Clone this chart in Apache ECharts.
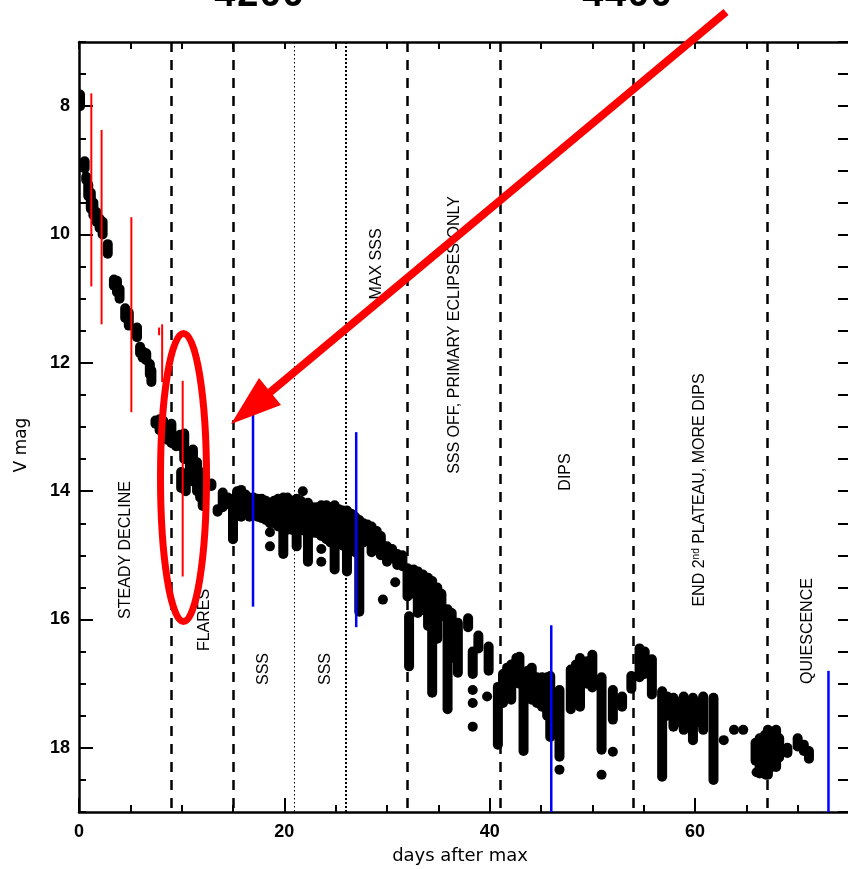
<!DOCTYPE html>
<html><head><meta charset="utf-8">
<script src="https://cdn.jsdelivr.net/npm/echarts@6/dist/echarts.min.js"></script>
<style>html,body{margin:0;padding:0;background:#fff}#c{width:848px;height:869px}</style>
</head><body><div id="c"></div>
<script>
// ---------- data ----------
const xTickLabels = [0, 20, 40, 60];
const yTickLabels = [8, 10, 12, 14, 16, 18];
const topAxisLabels = ['4200', '4400'];
const phaseDashed = [9, 15, 32, 41, 54, 67];
const phaseDottedThin = [21];
const phaseDottedThick = [26];
// light-curve runs of overlapping points: [day, brightest mag, faintest mag]
const streaks = [
  [0.1, 7.82, 8.0], [0.55, 8.86, 8.97], [0.7, 9.1, 9.15], [0.9, 9.22, 9.4], [1.15, 9.35, 9.6],
  [1.4, 9.5, 9.7], [1.7, 9.65, 9.8], [2.0, 9.75, 9.9], [2.3, 9.8, 10.0], [2.8, 10.15, 10.3],
  [3.4, 10.7, 10.8], [3.7, 10.72, 10.9], [3.95, 10.85, 11.0], [4.5, 11.15, 11.3], [4.85, 11.22, 11.42],
  [5.65, 11.45, 11.6], [5.95, 11.75, 11.85], [6.2, 11.82, 11.92], [6.55, 11.85, 11.96], [6.9, 12.02, 12.18],
  [7.05, 12.12, 12.3], [7.45, 12.9, 12.95], [7.85, 12.88, 13.05], [8.2, 12.9, 13.1], [8.6, 12.98, 13.2],
  [9.0, 12.95, 13.25], [9.45, 13.15, 13.3], [9.85, 13.12, 13.3], [10.25, 13.1, 13.5], [9.95, 13.7, 13.95],
  [10.4, 13.75, 14.0], [10.8, 13.4, 13.7], [11.1, 13.35, 13.85], [11.5, 13.55, 14.0], [11.8, 13.7, 14.1],
  [12.05, 13.75, 14.23], [12.9, 13.88, 13.92], [13.5, 14.28, 14.32], [14.0, 14.02, 14.25], [14.5, 14.1, 14.2],
  [15.0, 14.12, 14.75], [15.4, 14.0, 14.35], [15.8, 13.98, 14.4], [16.2, 14.05, 14.35], [16.6, 14.1, 14.4],
  [17.0, 14.1, 14.38], [17.4, 14.12, 14.4], [17.8, 14.12, 14.42], [18.2, 14.15, 14.45], [18.6, 14.2, 14.5],
  [19.0, 14.15, 14.5], [19.4, 14.12, 14.55], [19.9, 14.1, 14.98], [20.3, 14.1, 14.6], [20.7, 14.15, 14.6],
  [21.2, 14.12, 14.86], [21.6, 14.15, 14.6], [22.0, 14.2, 14.62], [22.3, 14.18, 15.1], [22.7, 14.25, 14.65],
  [23.1, 14.25, 14.65], [23.6, 14.22, 14.7], [24.1, 14.22, 14.75], [24.5, 14.25, 14.8], [24.9, 14.22, 15.22],
  [25.3, 14.28, 14.8], [25.7, 14.3, 14.85], [26.1, 14.3, 15.25], [26.5, 14.35, 14.9], [26.9, 14.4, 14.95],
  [27.3, 14.45, 15.88], [27.7, 14.5, 14.8], [28.1, 14.52, 14.75], [28.5, 14.55, 14.95], [29.0, 14.62, 14.9],
  [29.4, 14.7, 15.0], [30.0, 14.86, 15.1], [30.5, 14.9, 15.05], [31.0, 14.98, 15.15], [31.5, 15.0, 15.17],
  [32.0, 15.2, 15.64], [32.15, 15.95, 16.73], [32.6, 15.22, 15.6], [33.0, 15.25, 15.9], [33.5, 15.3, 15.85],
  [34.0, 15.35, 16.1], [34.4, 15.4, 17.14], [34.9, 15.5, 16.3], [35.3, 15.6, 15.95], [35.9, 15.84, 17.4],
  [36.3, 15.9, 16.6], [36.9, 16.05, 16.83], [37.9, 15.98, 16.12], [38.35, 16.5, 16.85], [38.9, 16.25, 16.45],
  [39.9, 16.42, 16.8], [40.8, 17.05, 17.95], [41.3, 16.85, 17.3], [41.7, 16.75, 17.2], [42.1, 16.7, 17.25],
  [42.6, 16.6, 16.9], [42.9, 16.58, 17.0], [43.3, 16.85, 18.05], [43.7, 16.8, 17.2], [44.1, 16.75, 17.25],
  [44.6, 16.9, 17.3], [45.1, 16.9, 17.36], [45.6, 16.9, 17.5], [45.9, 16.88, 17.83], [46.8, 17.1, 18.14],
  [47.9, 16.78, 17.4], [48.4, 16.7, 17.3], [48.8, 16.6, 17.36], [49.5, 16.65, 17.0], [50.0, 16.55, 17.06],
  [50.9, 16.9, 18.03], [52.0, 17.1, 17.56], [52.9, 17.2, 17.36], [53.8, 16.88, 17.08], [54.6, 16.45, 16.9],
  [55.1, 16.5, 16.85], [55.8, 16.62, 17.17], [56.8, 17.12, 18.45], [57.3, 17.2, 17.5], [57.9, 17.22, 17.67],
  [58.4, 17.28, 17.6], [58.9, 17.2, 17.72], [59.3, 17.28, 17.6], [59.8, 17.22, 17.88], [60.3, 17.28, 17.6],
  [60.8, 17.2, 17.72], [61.8, 17.22, 18.5], [65.9, 17.92, 18.2], [66.3, 17.85, 18.4], [66.8, 17.8, 18.3],
  [67.1, 17.72, 18.42], [67.5, 17.75, 18.3], [67.9, 17.72, 18.3], [68.2, 17.85, 18.15], [69.0, 18.0, 18.08],
  [70.0, 17.85, 17.98], [70.6, 17.95, 18.05], [71.1, 18.05, 18.17]
];
// isolated points: [day, mag]
const singles = [
  [18.6, 14.64], [18.6, 14.86], [21.8, 14.0], [23.6, 14.9], [23.6, 15.1], [29.6, 15.69], [30.8, 15.42],
  [38.35, 17.1], [38.35, 17.3], [38.35, 17.67], [39.75, 17.2], [46.8, 18.34], [50.9, 18.42], [52.0, 18.06],
  [62.8, 17.88], [63.8, 17.72], [64.7, 17.72], [66.0, 18.38], [66.9, 18.42]
];
// red error bars: [day, top mag, bottom mag]
const redBars = [[1.2, 7.8, 10.81], [2.2, 8.37, 11.4], [5.1, 9.73, 12.77], [7.8, 11.45, 11.57], [8.1, 11.4, 12.3], [10.1, 12.28, 15.33]];
// blue error bars
const blueBars = [[16.95, 12.8, 15.8], [27.0, 13.08, 16.12], [46.0, 16.09, 19.0], [73.0, 16.8, 19.0]];
const phaseLabels = ['STEADY DECLINE', 'FLARES', 'SSS', 'SSS', 'MAX SSS', 'SSS OFF, PRIMARY ECLIPSES ONLY', 'DIPS', 'END 2{sup|nd} PLATEAU, MORE DIPS', 'QUIESCENCE'];
const xTitle = 'days after max';
const yTitle = 'V mag';

// ---------- layout ----------
const labelPos = [[126, 550], [205, 620], [264, 669], [326, 669], [377, 264], [455, 335], [566, 472], [700, 490], [808, 631]];
const topLabelPos = [259, 627];
const FONT = '"Liberation Sans", Arial, sans-serif';
const FONT2 = '"DejaVu Sans", sans-serif';
const chart = echarts.init(document.getElementById('c'), null, {renderer: 'canvas'});
const axLine = {onZero: false, lineStyle: {color: '#000', width: 2.5}};
const noLine = {show: false, onZero: false};
const tickStyle = {color: '#000', width: 2};
const gridRect = {left: 79, top: 42, width: 770, height: 770, containLabel: false, outerBoundsMode: 'none'};
const commonX = {type: 'value', min: 0, max: 75, splitLine: {show: false}};
const commonY = {type: 'value', min: 7, max: 19, inverse: true, splitLine: {show: false}};
const tickLabelStyle = {color: '#000', fontSize: 18, fontWeight: 'bold', fontFamily: FONT};

function vlineSeries(vals, lineStyle) {
  return {
    type: 'line', data: [], silent: true, z: 3,
    markLine: {symbol: ['none', 'none'], label: {show: false}, silent: true, animation: false,
      lineStyle: Object.assign({color: '#000'}, lineStyle),
      data: vals.map(v => ({xAxis: v}))}
  };
}
function barSeries(data, color, width) {
  return {
    type: 'custom', data: data, z: 5, clip: true,
    encode: {x: 0, y: [1, 2]},
    renderItem: (params, api) => {
      const a = api.coord([api.value(0), api.value(1)]);
      const b = api.coord([api.value(0), api.value(2)]);
      return {type: 'line', shape: {x1: a[0], y1: a[1], x2: b[0], y2: b[1]}, style: {stroke: color, lineWidth: width}};
    }
  };
}

const option = {
  animation: false,
  backgroundColor: '#fff',
  grid: [Object.assign({}, gridRect), Object.assign({}, gridRect)],
  xAxis: [
    Object.assign({}, commonX, {gridIndex: 0, position: 'bottom', interval: 5,
      axisLine: axLine, axisTick: {inside: true, length: 7, lineStyle: tickStyle},
      axisLabel: Object.assign({formatter: v => xTickLabels.includes(v) ? String(v) : '', margin: 11}, tickLabelStyle)}),
    Object.assign({}, commonX, {gridIndex: 0, position: 'top', interval: 5,
      axisLine: axLine, axisTick: {inside: true, length: 7, lineStyle: tickStyle}, axisLabel: {show: false}}),
    Object.assign({}, commonX, {gridIndex: 1, position: 'bottom', interval: 20,
      axisLine: noLine, axisTick: {inside: true, length: 14, lineStyle: tickStyle}, axisLabel: {show: false}})
  ],
  yAxis: [
    Object.assign({}, commonY, {gridIndex: 0, position: 'left', interval: 0.5,
      axisLine: axLine, axisTick: {inside: true, length: 7, lineStyle: tickStyle},
      axisLabel: Object.assign({formatter: v => yTickLabels.includes(v) ? String(v) : '', margin: 9}, tickLabelStyle)}),
    Object.assign({}, commonY, {gridIndex: 0, position: 'right', interval: 0.5,
      axisLine: axLine, axisTick: {inside: true, length: 11, lineStyle: tickStyle}, axisLabel: {show: false}}),
    Object.assign({}, commonY, {gridIndex: 1, position: 'left', interval: 0.5,
      axisLine: noLine, axisTick: {inside: true, length: 14, lineStyle: tickStyle, customValues: yTickLabels}, axisLabel: {show: false}})
  ],
  series: [
    {
      type: 'custom', data: streaks, z: 2, clip: true, xAxisIndex: 0, yAxisIndex: 0,
      encode: {x: 0, y: [1, 2]},
      renderItem: (params, api) => {
        const a = api.coord([api.value(0), api.value(1)]);
        const b = api.coord([api.value(0), api.value(2)]);
        const r = 5;
        return {type: 'rect', shape: {x: a[0] - r, y: a[1] - r, width: 2 * r, height: b[1] - a[1] + 2 * r, r: r}, style: {fill: '#000'}};
      }
    },
    {type: 'scatter', data: singles, symbol: 'circle', symbolSize: 10, itemStyle: {color: '#000', opacity: 1}, z: 2, silent: true},
    vlineSeries(phaseDashed, {type: [10, 8], width: 2.5}),
    vlineSeries(phaseDottedThin, {type: [1.5, 2.5], width: 1}),
    vlineSeries(phaseDottedThick, {type: [2, 2], width: 2}),
    barSeries(redBars, '#ff0000', 2),
    barSeries(blueBars, '#0000ff', 2.5)
  ]
};
chart.setOption(option);

// annotations
const g = [];
phaseLabels.forEach((t, i) => {
  g.push({type: 'text', x: labelPos[i][0], y: labelPos[i][1], rotation: Math.PI / 2, z: 20,
    style: {text: t, fill: '#000', font: '16px ' + FONT, align: 'center', verticalAlign: 'middle',
      rich: {sup: {fontSize: 10, fontFamily: FONT, verticalAlign: 'top', padding: [0, 0, 7, 0]}}}});
});
g.push({type: 'text', x: 460, y: 856, z: 20, style: {text: xTitle, fill: '#000', font: '18px ' + FONT2, align: 'center', verticalAlign: 'middle'}});
g.push({type: 'text', x: 22, y: 445, rotation: Math.PI / 2, z: 20, style: {text: yTitle, fill: '#000', font: '17px ' + FONT2, align: 'center', verticalAlign: 'middle'}});
topAxisLabels.forEach((t, i) => {
  g.push({type: 'text', x: topLabelPos[i], y: -4, z: 20,
    style: {text: t, fill: '#000', font: 'bold 38px "Liberation Mono", "Courier New", monospace', align: 'center', verticalAlign: 'middle'}});
});
// red ellipse around the flares
g.push({type: 'ellipse', z: 30, shape: {cx: 183.5, cy: 477.5, rx: 23, ry: 144}, style: {fill: 'none', stroke: '#ff0000', lineWidth: 7}});
// red arrow
g.push({type: 'line', z: 30, shape: {x1: 726, y1: 12, x2: 268, y2: 394}, style: {stroke: '#ff0000', lineWidth: 8}});
g.push({type: 'polygon', z: 30, shape: {points: [[231, 424], [259, 378], [281, 405]]}, style: {fill: '#ff0000'}});
chart.setOption({graphic: g});
</script></body></html>
